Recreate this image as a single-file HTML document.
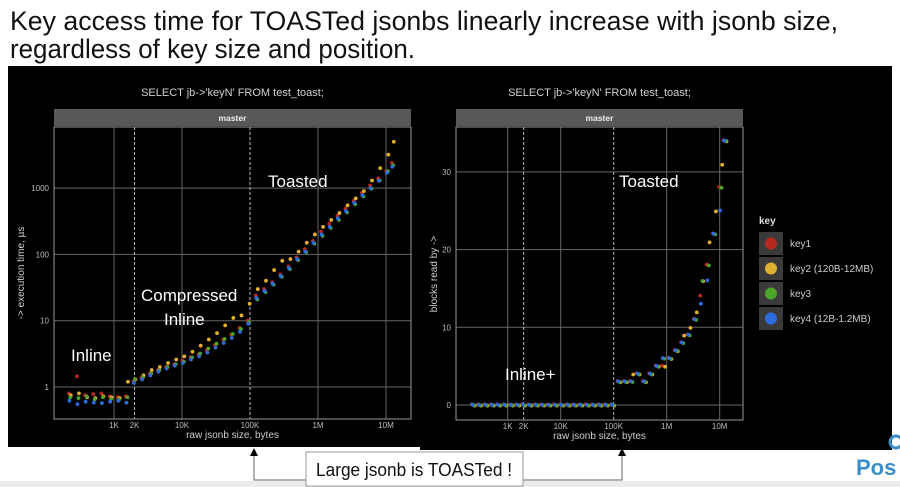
<!DOCTYPE html>
<html><head><meta charset="utf-8"><style>
html,body{margin:0;padding:0;background:#fff;}
svg{display:block;font-family:"Liberation Sans",sans-serif;}
</style></head><body>
<svg id="s" width="900" height="487" viewBox="0 0 900 487">
<rect x="0" y="0" width="900" height="487" fill="#fff"/>
<rect x="0" y="481" width="900" height="6" fill="#ececec"/>
<text x="10" y="30" font-size="27" textLength="828" lengthAdjust="spacingAndGlyphs" fill="#111">Key access time for TOASTed jsonbs  linearly increase with jsonb size,</text>
<text x="10" y="58" font-size="27" textLength="405" lengthAdjust="spacingAndGlyphs" fill="#111">regardless of key size and position.</text>
<rect x="8" y="66" width="412" height="381" fill="#000"/>
<rect x="420" y="66" width="472" height="384" fill="#000"/>
<g id="left"></g><g id="right"></g>
<g>
<polyline points="306,480 254,480 254,454" fill="none" stroke="#666" stroke-width="1"/>
<polygon points="254,448 250,456 258,456" fill="#000"/>
<polyline points="523,480 622,480 622,454" fill="none" stroke="#666" stroke-width="1"/>
<polygon points="622,448 618,456 626,456" fill="#000"/>
<rect x="306" y="452" width="217" height="34" fill="#fff" stroke="#999"/>
<text x="414" y="476" font-size="18" text-anchor="middle" textLength="196" lengthAdjust="spacingAndGlyphs" fill="#111">Large jsonb is TOASTed !</text>
</g>
<text x="856" y="475" font-size="22" font-weight="bold" fill="#3a8fc8">Pos</text>
<circle cx="896" cy="442" r="6" fill="none" stroke="#3a8fc8" stroke-width="3"/>
</svg>
<script>
const sizes=[224,295,389,513,676,891,1175,1549,1995,2630,3467,4571,6026,7943,10471,13804,18197,23988,31623,41687,54954,72444,95499,125893,165959,218776,288403,380189,501187,660693,870964,1148154,1513561,1995262,2630268,3467369,4570882,6025596,7943282,10471285,12589254];
const seriesNames=["key1","key2 (120B-12MB)","key3","key4 (12B-1.2MB)"];
const time1=[0.8,1.45,0.75,0.78,0.8,0.72,0.7,0.72,1.2,1.4,1.6,1.8,2.0,2.2,2.5,2.8,3.1,3.6,4.3,5.2,6.2,7.8,10,24,30,38,50,66,90,120,160,220,290,380,490,640,850,1100,1400,1800,2400];
const time2=[0.75,0.8,0.7,0.68,0.72,0.7,0.68,1.2,1.3,1.5,1.8,2.0,2.3,2.6,2.9,3.4,4.2,5.2,6.5,8.5,11,12,18,30,40,58,80,85,110,150,200,260,330,420,550,700,900,1300,2000,3200,5000];
const time3=[0.7,0.68,0.72,0.65,0.7,0.66,0.65,0.7,1.3,1.4,1.6,1.8,2.0,2.2,2.4,2.8,3.2,3.8,4.5,5.3,6.3,7.5,9.5,21,27,35,46,60,82,108,145,190,250,330,430,570,750,980,1300,1800,2200];
const time4=[0.62,0.55,0.6,0.58,0.57,0.6,0.62,0.58,1.15,1.3,1.5,1.7,1.9,2.1,2.3,2.6,2.9,3.3,3.9,4.6,5.5,6.8,9.0,22,28,36,47,62,85,110,150,200,260,350,450,600,780,1000,1300,1700,2100];
const blocks1=[0,0,0,0,0,0,0,0,0,0,0,0,0,0,0,0,0,0,0,0,0,0,0,3,3,3,4,3,4,5,5,6,7,8,9,11,14,18,22,28,34];
const blocks2=[0,0,0,0,0,0,0,0,0,0,0,0,0,0,0,0,0,0,0,0,0,0,0,3,3,4,4,3,4,5,5,6,7,9,10,12,16,21,25,31,34];
const blocks3=[0,0,0,0,0,0,0,0,0,0,0,0,0,0,0,0,0,0,0,0,0,0,0,3,3,3,4,3,4,5,6,6,7,8,9,11,16,18,22,28,34];
const blocks4=[0,0,0,0,0,0,0,0,0,0,0,0,0,0,0,0,0,0,0,0,0,0,0,3,3,3,4,3,4,5,6,6,7,8,9,11,13,16,22,25,34];
const xTickVals=[1000,2000,10000,100000,1000000,10000000];
const xTickLabels=["1K","2K","10K","100K","1M","10M"];
const yTickValsL=[1,10,100,1000];
const yTickLabelsL=["1","10","100","1000"];
const yTickValsR=[0,10,20,30];
const colors=["#b8281f","#e2b031","#4ca42b","#2b6de0"];
const NS="http://www.w3.org/2000/svg";
function mk(p,tag,a,txt){const e=document.createElementNS(NS,tag);for(const k in a)e.setAttribute(k,a[k]);if(txt!==undefined)e.textContent=txt;p.appendChild(e);return e;}
const L=document.getElementById('left'),R=document.getElementById('right');
const xL=s=>114+68*(Math.log10(s)-3), yL=v=>387-66.3*Math.log10(v);
const xR=s=>507.7+53*(Math.log10(s)-3), yR=b=>405-7.77*b;
function panel(g,x0,x1,y0,y1,xs,ticksY,labY,yf,isLeft){
  let e=mk(g,'text',{x:(x0+x1)/2,y:96,'font-size':11,fill:'#d0d0d0','text-anchor':'middle'},"SELECT jb->'keyN' FROM test_toast;");
  
  
  e=mk(g,'rect',{x:x0,y:109,width:x1-x0,height:17,fill:'#585858'});
  
  
  e=mk(g,'text',{x:(x0+x1)/2,y:121,'font-size':8.5,'font-weight':'bold',fill:'#eee','text-anchor':'middle'},'master');
  
  
  ticksY.forEach((v,i)=>{const y=yf(v);
    mk(g,'line',{x1:x0,x2:x1,y1:y,y2:y,stroke:'#666','stroke-width':1});
    e=mk(g,'text',{x:x0-5,y:y+3,'font-size':8,fill:'#bbb','text-anchor':'end'},labY[i]);
    
    });
  xTickVals.forEach((v,i)=>{const x=xs(v);const dashed=(v===2000||v===100000);
    mk(g,'line',{x1:x,x2:x,y1:y0,y2:y1,stroke:dashed?'#bbb':'#666','stroke-width':1,'stroke-dasharray':dashed?'3,2':'none'});
    e=mk(g,'text',{x:x,y:y1+9,'font-size':8,fill:'#bbb','text-anchor':'middle'},xTickLabels[i]);
    
    });
  e=mk(g,'rect',{x:x0,y:y0,width:x1-x0,height:y1-y0,fill:'none',stroke:'#999','stroke-width':1});
  
  
  e=mk(g,'text',{x:(x0+x1)/2,y:y1+19,'font-size':10,fill:'#ccc','text-anchor':'middle'},'raw jsonb size, bytes');
  
  
}
panel(L,54,411,127,419,xL,yTickValsL,yTickLabelsL,yL,true);
panel(R,456,743,127,420,xR,yTickValsR,yTickValsR.map(String),yR,false);
let t=mk(L,'text',{x:24,y:273,'font-size':10,fill:'#ccc','text-anchor':'middle',transform:'rotate(-90 24 273)'},'-> execution time, µs');


t=mk(R,'text',{x:437,y:274,'font-size':10,fill:'#ccc','text-anchor':'middle',transform:'rotate(-90 437 274)'},'blocks read by ->');


const times=[time1,time2,time3,time4], blocks=[blocks1,blocks2,blocks3,blocks4];
const jit=[-1,1,0.5,-0.5];
times.forEach((arr,k)=>arr.forEach((v,i)=>{const c=mk(L,'circle',{cx:xL(sizes[i])+jit[k],cy:yL(v),r:1.9,fill:colors[k]});
  
  }));
blocks.forEach((arr,k)=>arr.forEach((v,i)=>{const c=mk(R,'circle',{cx:xR(sizes[i])+jit[k]*1.5,cy:yR(v)+jit[k]*0.6,r:1.9,fill:colors[k]});
  
  }));
function ann(g,x,y,s,txt){const e=mk(g,'text',{x:x,y:y,'font-size':s,fill:'#fff'},txt);
  
  }
ann(L,268,187,17,'Toasted');ann(L,141,301,17,'Compressed');ann(L,164,325,17,'Inline');ann(L,71,361,17,'Inline');
ann(R,619,187,17,'Toasted');ann(R,505,380,17,'Inline+');
t=mk(R,'text',{x:759,y:224,'font-size':10,'font-weight':'bold',fill:'#ddd'},'key');


seriesNames.forEach((n,k)=>{const y=232+k*25;
  const r=mk(R,'rect',{x:759,y:y,width:24,height:23,fill:'#3a3a3a'});
  
  
  mk(R,'circle',{cx:771,cy:y+11.5,r:6,fill:colors[k]});
  const e=mk(R,'text',{x:790,y:y+15,'font-size':10,fill:'#ccc'},n);
  
  });
</script>
</body></html>
